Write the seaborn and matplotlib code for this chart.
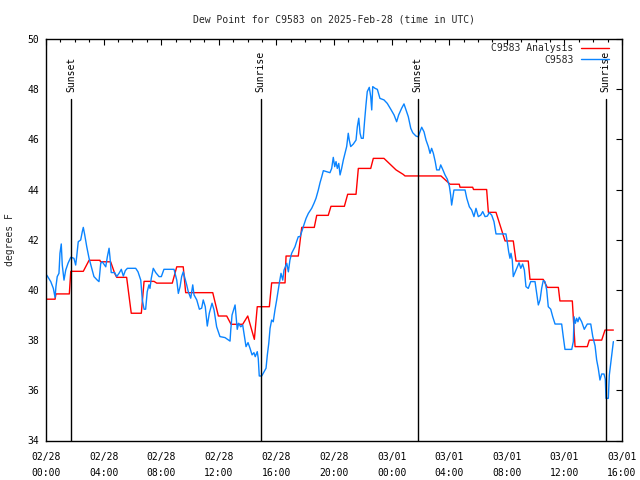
import numpy as np
import pandas as pd
import matplotlib
matplotlib.use("Agg")
import matplotlib.pyplot as plt
from matplotlib.ticker import MultipleLocator
import seaborn as sns

# ---- data (hours since 2025-02-28 00:00 UTC, degrees F) ----
analysis_hours = [0.05, 0.63, 0.69, 1.62, 1.72, 2.59, 2.99, 3.75, 3.78, 4.49, 4.77, 4.91, 5.60, 5.92,
                  6.62, 6.81, 7.50, 7.69, 8.77, 9.08, 9.53, 9.70, 11.58, 11.97, 12.55, 12.85, 13.66,
                  14.01, 14.47, 14.67, 15.51, 15.67, 16.60, 16.67, 17.52, 17.76, 18.63, 18.80, 19.60,
                  19.79, 20.72, 20.95, 21.53, 21.69, 22.55, 22.73, 23.47, 24.31, 24.81, 24.93, 27.43,
                  28.06, 28.70, 28.75, 29.63, 29.69, 30.60, 30.72, 31.25, 31.88, 32.45, 32.64, 33.49,
                  33.61, 34.53, 34.81, 35.58, 35.69, 36.55, 36.74, 37.59, 37.73, 38.59, 38.82, 39.40]
analysis_values = [39.63, 39.63, 39.84, 39.84, 40.74, 40.74, 41.18, 41.18, 41.12, 41.12, 40.66, 40.50,
                   40.50, 39.07, 39.07, 40.34, 40.34, 40.27, 40.27, 40.92, 40.92, 39.89, 39.89, 38.96,
                   38.96, 38.63, 38.63, 38.96, 38.03, 39.33, 39.33, 40.28, 40.28, 41.35, 41.35, 42.49,
                   42.49, 42.97, 42.97, 43.33, 43.33, 43.81, 43.81, 44.84, 44.84, 45.24, 45.24, 44.78,
                   44.60, 44.54, 44.54, 44.21, 44.21, 44.09, 44.09, 44.00, 44.00, 43.09, 43.09, 41.95,
                   41.95, 41.15, 41.15, 40.42, 40.42, 40.10, 40.10, 39.56, 39.56, 37.74, 37.74, 38.00,
                   38.00, 38.40, 38.40]

obs_hours = [0.05, 0.33, 0.51, 0.63, 0.69, 0.78, 0.90, 0.97, 1.06, 1.13, 1.25, 1.37, 1.53, 1.72, 1.94,
             2.06, 2.13, 2.24, 2.41, 2.52, 2.59, 2.69, 2.83, 2.99, 3.15, 3.33, 3.56, 3.68, 3.80, 3.91,
             4.15, 4.26, 4.38, 4.44, 4.53, 4.77, 4.91, 5.07, 5.23, 5.37, 5.51, 5.65, 6.23, 6.39, 6.58,
             6.69, 6.81, 6.92, 7.03, 7.15, 7.22, 7.31, 7.45, 7.62, 7.85, 8.01, 8.19, 8.89, 9.08, 9.19,
             9.31, 9.42, 9.53, 9.65, 9.77, 9.88, 10.05, 10.19, 10.28, 10.47, 10.65, 10.81, 10.92, 11.06,
             11.20, 11.34, 11.53, 11.67, 11.85, 12.08, 12.43, 12.78, 12.83, 12.92, 13.06, 13.13, 13.19,
             13.28, 13.38, 13.52, 13.66, 13.75, 13.89, 14.03, 14.17, 14.31, 14.44, 14.53, 14.67, 14.74,
             14.81, 14.98, 15.14, 15.28, 15.37, 15.47, 15.56, 15.67, 15.78, 15.90, 16.02, 16.20, 16.32,
             16.44, 16.53, 16.72, 16.83, 16.94, 17.06, 17.29, 17.40, 17.52, 17.64, 17.76, 17.87, 18.06,
             18.22, 18.45, 18.61, 18.75, 18.91, 19.03, 19.15, 19.26, 19.49, 19.72, 19.84, 19.95, 20.05,
             20.14, 20.23, 20.33, 20.42, 20.53, 20.65, 20.76, 20.88, 20.99, 21.06, 21.16, 21.34, 21.53,
             21.62, 21.72, 21.81, 21.90, 22.03, 22.13, 22.22, 22.31, 22.45, 22.55, 22.62, 22.69, 22.85,
             23.01, 23.19, 23.47, 23.70, 23.94, 24.17, 24.35, 24.49, 24.70, 24.86, 25.00, 25.16, 25.33,
             25.47, 25.69, 25.85, 25.97, 26.09, 26.25, 26.39, 26.55, 26.67, 26.78, 26.90, 27.03, 27.13,
             27.31, 27.41, 27.55, 27.71, 27.87, 28.01, 28.10, 28.17, 28.24, 28.33, 29.10, 29.22, 29.40,
             29.56, 29.72, 29.86, 30.02, 30.19, 30.33, 30.49, 30.65, 30.78, 30.95, 31.11, 31.25, 31.94,
             32.03, 32.13, 32.22, 32.29, 32.38, 32.45, 32.59, 32.73, 32.85, 32.97, 33.10, 33.22, 33.33,
             33.49, 33.66, 33.96, 34.08, 34.19, 34.31, 34.42, 34.53, 34.65, 34.77, 34.88, 35.05, 35.19,
             35.35, 35.81, 35.92, 36.04, 36.51, 36.62, 36.67, 36.76, 36.85, 36.94, 37.03, 37.20, 37.38,
             37.59, 37.83, 37.97, 38.13, 38.24, 38.35, 38.47, 38.59, 38.75, 38.84, 38.89, 39.05, 39.12,
             39.22, 39.31, 39.40]
obs_values = [40.59, 40.33, 40.06, 39.70, 40.13, 40.53, 40.66, 41.46, 41.83, 40.99, 40.39, 40.79, 41.06,
              41.30, 41.26, 40.99, 41.32, 41.92, 41.99, 42.32, 42.49, 42.19, 41.72, 41.26, 40.92, 40.53,
              40.39, 40.33, 41.06, 41.12, 40.92, 41.32, 41.66, 41.32, 40.69, 40.69, 40.53, 40.66, 40.82,
              40.55, 40.77, 40.86, 40.86, 40.72, 40.39, 39.60, 39.23, 39.23, 39.93, 40.20, 40.06, 40.46,
              40.86, 40.69, 40.53, 40.53, 40.82, 40.82, 40.39, 39.86, 40.13, 40.53, 40.72, 40.46, 40.20,
              39.93, 39.67, 40.20, 39.80, 39.60, 39.23, 39.27, 39.60, 39.33, 38.56, 39.07, 39.47, 39.20,
              38.53, 38.14, 38.10, 37.96, 38.40, 39.00, 39.27, 39.40, 39.00, 38.43, 38.67, 38.53, 38.60,
              38.27, 37.74, 37.90, 37.67, 37.41, 37.50, 37.34, 37.54, 37.27, 36.57, 36.57, 36.74, 36.88,
              37.41, 37.87, 38.47, 38.80, 38.73, 39.20, 39.60, 40.26, 40.66, 40.39, 40.79, 41.06, 40.72,
              41.19, 41.46, 41.72, 41.92, 42.12, 42.12, 42.32, 42.52, 42.85, 43.05, 43.25, 43.45, 43.65,
              43.98, 44.27, 44.51, 44.75, 44.71, 44.67, 44.84, 45.28, 44.91, 45.11, 44.84, 45.04, 44.58,
              44.84, 45.18, 45.44, 45.71, 46.24, 45.97, 45.71, 45.81, 45.97, 46.50, 46.84, 46.24, 46.04,
              46.04, 46.77, 47.37, 47.90, 48.07, 47.70, 47.17, 48.10, 48.03, 47.99, 47.63, 47.57, 47.43,
              47.20, 46.97, 46.70, 46.97, 47.24, 47.41, 47.17, 46.90, 46.44, 46.26, 46.13, 46.10, 46.30,
              46.48, 46.30, 45.97, 45.71, 45.44, 45.64, 45.44, 45.11, 44.78, 44.78, 44.98, 44.80, 44.58,
              44.41, 44.14, 43.78, 43.38, 43.65, 43.98, 43.98, 43.65, 43.31, 43.18, 42.92, 43.25, 42.92,
              42.98, 43.12, 42.92, 42.94, 43.08, 42.98, 42.72, 42.23, 42.23, 41.92, 41.52, 41.26, 41.46,
              41.19, 40.53, 40.72, 40.92, 41.08, 40.86, 41.03, 40.79, 40.13, 40.06, 40.33, 40.33, 39.86,
              39.40, 39.60, 40.06, 40.37, 40.33, 40.00, 39.33, 39.23, 38.93, 38.64, 38.64, 38.14, 37.63,
              37.63, 37.94, 38.93, 38.67, 38.87, 38.73, 38.91, 38.73, 38.43, 38.64, 38.64, 38.14, 37.77,
              37.21, 36.88, 36.41, 36.65, 36.65, 36.44, 35.68, 35.68, 36.61, 37.08, 37.47, 37.94]

event_hours = [1.76, 14.90, 25.80, 38.87]
event_labels = ["Sunset", "Sunrise", "Sunset", "Sunrise"]

tick_hours = [0, 4, 8, 12, 16, 20, 24, 28, 32, 36, 40]
tick_labels = ["02/28\n00:00", "02/28\n04:00", "02/28\n08:00", "02/28\n12:00", "02/28\n16:00",
               "02/28\n20:00", "03/01\n00:00", "03/01\n04:00", "03/01\n08:00", "03/01\n12:00",
               "03/01\n16:00"]

title = "Dew Point for C9583 on 2025-Feb-28 (time in UTC)"
ylabel = "degrees F"

# ---- plotting ----
sns.set_theme(style="white")
FONT = ["DejaVu Sans Mono"]
plt.rcParams["font.family"] = FONT
plt.rcParams["font.size"] = 7

fig = plt.figure(figsize=(6.4, 4.8), dpi=100)
ax = fig.add_axes([46 / 640, 1 - 440.5 / 480, 576 / 640, (440.5 - 38.9) / 480])

df_a = pd.DataFrame({"hour": analysis_hours, "value": analysis_values})
df_o = pd.DataFrame({"hour": obs_hours, "value": obs_values})

sns.lineplot(data=df_a, x="hour", y="value", ax=ax, color="#ff0000", lw=1.0,
             estimator=None, sort=False, label="C9583 Analysis", legend=False)
sns.lineplot(data=df_o, x="hour", y="value", ax=ax, color="#0a84ff", lw=1.0,
             estimator=None, sort=False, label="C9583", legend=False)

for h, lab in zip(event_hours, event_labels):
    ax.plot([h, h], [34, 47.6], color="black", lw=1.0)
    ax.text(h, 47.9, lab, rotation=90, ha="center", va="bottom", fontsize=7, color="black")

ax.set_xlim(0, 40)
ax.set_ylim(34, 50)
ax.set_xticks(tick_hours)
ax.set_xticklabels(tick_labels, linespacing=1.75)
ax.xaxis.set_minor_locator(MultipleLocator(1))
ax.set_yticks(np.arange(34, 51, 2))
ax.set_xlabel("")
ax.set_ylabel("")

ax.tick_params(axis="both", which="both", direction="in", top=True, right=True,
               colors="black", labelsize=7)
ax.tick_params(axis="both", which="major", length=4, width=0.8)
ax.tick_params(axis="x", which="minor", length=2.2, width=0.8)
ax.tick_params(axis="x", which="major", pad=8)
ax.tick_params(axis="y", which="major", pad=5)
for s in ax.spines.values():
    s.set_color("black")
    s.set_linewidth(1.0)
    s.set_visible(True)
ax.grid(False)
ax.set_facecolor("white")

leg = ax.legend(loc="upper right", bbox_to_anchor=(0.978, 0.99), frameon=False,
                markerfirst=False, handlelength=2.9, handletextpad=0.8,
                labelspacing=0.2, borderaxespad=0, borderpad=0, fontsize=7)

fig.text(334 / 640, 1 - 19 / 480, title, ha="center", va="center", fontsize=7)
fig.text(10 / 640, 1 - 240 / 480, ylabel, ha="center", va="center", rotation=90, fontsize=7)

fig.savefig("out.png", dpi=100, facecolor="white")
